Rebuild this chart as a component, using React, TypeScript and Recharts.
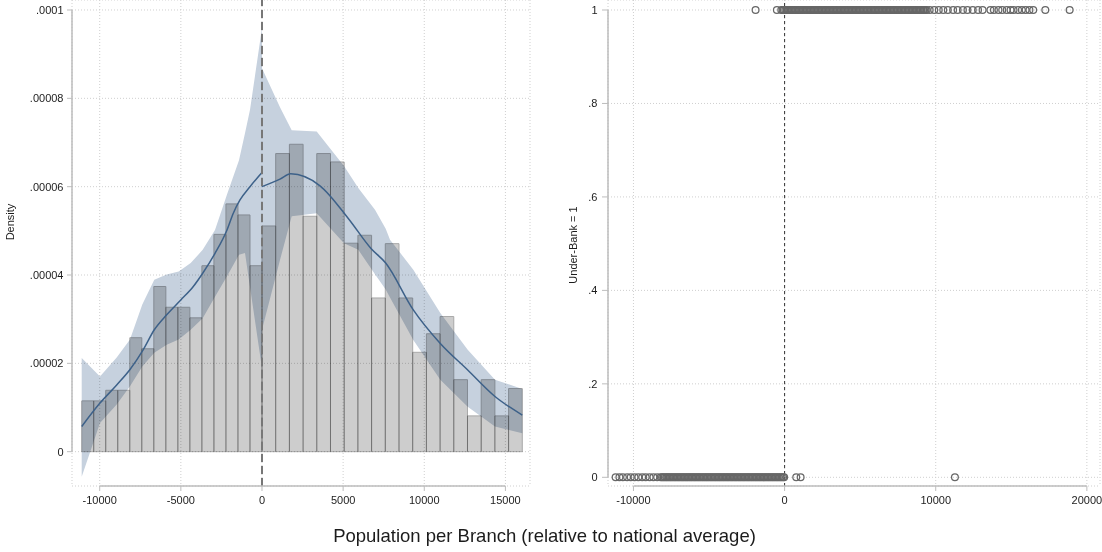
import React from "react";
import {
  ComposedChart,
  ScatterChart,
  Scatter,
  Area,
  Line,
  XAxis,
  YAxis,
  CartesianGrid,
  ReferenceArea,
  ReferenceLine,
} from "recharts";

const FONT = "'Liberation Sans', Arial, Helvetica, sans-serif";
const TEXT = "#1c1c1c";
const AXIS = "#bdbdbd";
const GRID = "#cfcfcf";
const E = 1e-5; // density values below are in units of 1e-5

// ---- left panel: histogram of population per branch ----
const leftBinStart = -11110;
const leftBinWidth = 740.7;
const leftBarHeights = [1.15, 1.15, 1.39, 1.39, 2.58, 2.33, 3.74, 3.27, 3.27, 3.03, 4.21, 4.92, 5.61, 5.36, 4.21];
const rightBinStart = 0;
const rightBinWidth = 844.2;
const rightBarHeights = [5.11, 6.75, 6.96, 5.33, 6.75, 6.56, 4.72, 4.9, 3.48, 4.71, 3.48, 2.25, 2.67, 3.06, 1.63, 0.81, 1.63, 0.81, 1.43];

// local fit, left of cutoff
const leftFitX = [-11110, -9983, -8954, -8134, -7315, -6637, -5873, -4991, -4233, -3654, -2896, -2157, -1769, -1356, -739, 0];
const leftFitY = [0.57, 1.1, 1.51, 1.86, 2.31, 2.76, 3.1, 3.44, 3.74, 4.04, 4.49, 5.02, 5.4, 5.7, 6.0, 6.32];
// confidence band, left of cutoff
const leftBandX = [-11110, -9983, -8954, -8134, -7376, -6637, -5873, -5134, -4394, -3654, -2896, -2157, -1417, -1048, -739, 0];
const leftBandLo = [-0.57, 0.65, 1.07, 1.48, 1.93, 2.24, 2.42, 2.54, 2.76, 3.02, 3.51, 3.97, 4.46, 4.5, 3.73, 1.89];
const leftBandHi = [2.12, 1.7, 2.13, 2.54, 3.33, 3.89, 4.01, 4.08, 4.27, 4.57, 5.02, 5.82, 6.6, 7.21, 7.74, 9.59];

// local fit, right of cutoff
const rightFitX = [0, 1109, 1769, 3574, 5318, 6717, 7623, 9323, 10987, 12676, 14358, 16040];
const rightFitY = [6.0, 6.17, 6.29, 6.02, 5.28, 4.6, 4.27, 3.21, 2.45, 1.85, 1.25, 0.83];
// confidence band, right of cutoff
const rightBandX = [0, 1109, 1830, 3371, 5053, 5934, 6963, 7623, 7888, 9323, 10987, 12676, 14358, 16040];
const rightBandLo = [2.76, 4.34, 5.33, 5.4, 4.72, 4.57, 4.02, 3.67, 3.49, 2.53, 1.63, 1.02, 0.57, 0.42];
const rightBandHi = [8.68, 7.8, 7.28, 7.25, 6.47, 5.97, 5.48, 5.05, 4.8, 4.12, 3.14, 2.31, 1.63, 1.42];

const densityTicks = [0, 2e-5, 4e-5, 6e-5, 8e-5, 1e-4];
const densityTickLabels = ["0", ".00002", ".00004", ".00006", ".00008", ".0001"];
const leftXTicks = [-10000, -5000, 0, 5000, 10000, 15000];

// ---- right panel: under-banked indicator ----
const underBankTicks = [0, 0.2, 0.4, 0.6, 0.8, 1];
const underBankTickLabels = ["0", ".2", ".4", ".6", ".8", "1"];
const rightXTicks = [-10000, 0, 10000, 20000];

const underBankedX = [
  -1920, -510,
  -220, -130, -40, 50, 140, 225, 320, 405, 500, 590, 675, 770, 860, 945, 1040, 1125, 1220, 1310, 1395, 1490,
  1580, 1665, 1760, 1850, 1935, 2030, 2115, 2210, 2300, 2385, 2480, 2570, 2655, 2750, 2840, 2925, 3020, 3105,
  3200, 3290, 3375, 3470, 3560, 3645, 3740, 3830, 3915, 4010, 4095, 4190, 4280, 4365, 4460, 4550, 4635, 4730,
  4820, 4905, 5000, 5085, 5180, 5270, 5355, 5450, 5540, 5625, 5720, 5810, 5895, 5990, 6075, 6170, 6260, 6345,
  6440, 6530, 6615, 6710, 6800, 6885, 6980, 7065, 7160, 7250, 7335, 7430, 7520, 7605, 7700, 7790, 7875, 7970,
  8055, 8150, 8240, 8325, 8420, 8510, 8595, 8690, 8780, 8865, 8960, 9045, 9140, 9230, 9315, 9400,
  9600, 9900, 10200, 10500, 10800, 11150, 11450, 11800, 12100, 12450, 12800, 13100, 13620, 13850, 14150,
  14400, 14700, 14950, 15150, 15450, 15700, 15950, 16200, 16450, 17250, 18860,
];
const notUnderBankedX = [
  -11180, -10930, -10700, -10420, -10180, -9930, -9680, -9420, -9190, -8930, -8680, -8430,
  -8200, -8110, -8025, -7930, -7840, -7755, -7660, -7570, -7485, -7390, -7300, -7215, -7120, -7030, -6945,
  -6850, -6760, -6675, -6580, -6490, -6405, -6310, -6220, -6135, -6040, -5950, -5865, -5770, -5680, -5595,
  -5500, -5410, -5325, -5230, -5140, -5055, -4960, -4870, -4785, -4690, -4600, -4515, -4420, -4330, -4245,
  -4150, -4060, -3975, -3880, -3790, -3705, -3610, -3520, -3435, -3340, -3250, -3165, -3070, -2980, -2895,
  -2800, -2710, -2625, -2530, -2440, -2355, -2260, -2170, -2085, -1990, -1900, -1815, -1720, -1630, -1545,
  -1450, -1360, -1275, -1180, -1090, -1005, -910, -820, -735, -640, -550, -465, -370, -280, -195, -100, -30,
  770, 1060, 11270,
];

const leftBins = [
  ...leftBarHeights.map((h, i) => ({ x1: leftBinStart + i * leftBinWidth, x2: leftBinStart + (i + 1) * leftBinWidth, h: h * E })),
  ...rightBarHeights.map((h, i) => ({ x1: rightBinStart + i * rightBinWidth, x2: rightBinStart + (i + 1) * rightBinWidth, h: h * E })),
];
const leftFit = leftFitX.map((x, i) => ({ x, fit: leftFitY[i] * E }));
const rightFit = rightFitX.map((x, i) => ({ x, fit: rightFitY[i] * E }));
const leftBand = leftBandX.map((x, i) => ({ x, band: [leftBandLo[i] * E, leftBandHi[i] * E] }));
const rightBand = rightBandX.map((x, i) => ({ x, band: [rightBandLo[i] * E, rightBandHi[i] * E] }));
const topRow = underBankedX.map((x) => ({ x, y: 1 }));
const bottomRow = notUnderBankedX.map((x) => ({ x, y: 0 }));

const LX: [number, number] = [-11708, 16515];
const LY: [number, number] = [-0.0777e-4, 1.02264e-4];
const RX: [number, number] = [-11685, 20869];
const RY: [number, number] = [-0.0186, 1.0214];

const tickStyle = { fontSize: 11, fill: TEXT, fontFamily: FONT };

const Ring = (props: any) => (
  <circle cx={props.cx} cy={props.cy} r={3.4} fill="none" stroke="#676767" strokeWidth={1.25} />
);

// band and bars are multiplied so the overlap darkens like the original
const blendCss = `
.lp .recharts-area, .lp .recharts-area g, .lp .recharts-area-area,
.lp .recharts-reference-area, .lp .recharts-reference-area-rect { mix-blend-mode: multiply; }
`;

export default function App() {
  return (
    <div style={{ position: "absolute", left: 0, top: 0, width: 1102, height: 552, background: "#fff", fontFamily: FONT }}>
      <style>{blendCss}</style>

      {/* Left: density */}
      <div className="lp" style={{ position: "absolute", left: 0, top: 0 }}>
        <ComposedChart width={540} height={552} margin={{ top: 0, right: 10, bottom: 0, left: 0 }}>
          <CartesianGrid stroke={GRID} strokeDasharray="1 2" />
          <XAxis
            type="number"
            dataKey="x"
            domain={LX}
            allowDataOverflow
            ticks={leftXTicks}
            height={66}
            axisLine={false}
            tickLine={{ stroke: AXIS }}
            tickSize={5}
            tickMargin={5}
            tick={tickStyle}
          />
          <YAxis
            type="number"
            domain={LY}
            allowDataOverflow
            ticks={densityTicks}
            tickFormatter={(v: number) => densityTickLabels[densityTicks.indexOf(v)] ?? ""}
            width={72}
            axisLine={false}
            tickLine={{ stroke: AXIS }}
            tickSize={5}
            tickMargin={3.5}
            tick={tickStyle}
          />
          {leftBins.map((b, i) => (
            <ReferenceArea
              key={i}
              x1={b.x1}
              x2={b.x2}
              y1={0}
              y2={b.h}
              fill="#cdcdcd"
              fillOpacity={1}
              stroke="#a9a9a9"
              strokeWidth={1}
              ifOverflow="visible"
            />
          ))}
          <Area data={leftBand} dataKey="band" type="linear" stroke="none" fill="#c6d1de" fillOpacity={1} isAnimationActive={false} />
          <Area data={rightBand} dataKey="band" type="linear" stroke="none" fill="#c6d1de" fillOpacity={1} isAnimationActive={false} />
          <Line data={leftFit} dataKey="fit" type="monotone" stroke="#3d6189" strokeWidth={1.5} dot={false} isAnimationActive={false} />
          <Line data={rightFit} dataKey="fit" type="monotone" stroke="#3d6189" strokeWidth={1.5} dot={false} isAnimationActive={false} />
          <ReferenceLine x={0} stroke="#777" strokeWidth={2} strokeDasharray="8 4" ifOverflow="visible" />
          <ReferenceLine segment={[{ x: -10000, y: LY[0] }, { x: 15000, y: LY[0] }]} stroke={AXIS} strokeWidth={1.5} ifOverflow="visible" />
          <ReferenceLine segment={[{ x: LX[0], y: 0 }, { x: LX[0], y: 1e-4 }]} stroke={AXIS} strokeWidth={1.5} ifOverflow="visible" />
        </ComposedChart>
      </div>

      {/* Right: under-banked indicator */}
      <div style={{ position: "absolute", left: 540, top: 0 }}>
        <ScatterChart width={562} height={552} margin={{ top: 0, right: 2, bottom: 0, left: 0 }}>
          <CartesianGrid stroke={GRID} strokeDasharray="1 2" />
          <XAxis
            type="number"
            dataKey="x"
            domain={RX}
            allowDataOverflow
            ticks={rightXTicks}
            height={66}
            axisLine={false}
            tickLine={{ stroke: AXIS }}
            tickSize={5}
            tickMargin={5}
            tick={tickStyle}
          />
          <YAxis
            type="number"
            dataKey="y"
            domain={RY}
            allowDataOverflow
            ticks={underBankTicks}
            tickFormatter={(v: number) => underBankTickLabels[underBankTicks.indexOf(v)] ?? ""}
            width={68}
            axisLine={false}
            tickLine={{ stroke: AXIS }}
            tickSize={6}
            tickMargin={4.5}
            tick={tickStyle}
          />
          <ReferenceLine x={0} stroke="#333" strokeWidth={1} strokeDasharray="3 3" ifOverflow="visible" />
          <Scatter data={topRow} shape={Ring} isAnimationActive={false} />
          <Scatter data={bottomRow} shape={Ring} isAnimationActive={false} />
          <ReferenceLine segment={[{ x: -10000, y: RY[0] }, { x: 20000, y: RY[0] }]} stroke={AXIS} strokeWidth={1.5} ifOverflow="visible" />
          <ReferenceLine segment={[{ x: RX[0], y: 0 }, { x: RX[0], y: 1 }]} stroke={AXIS} strokeWidth={1.5} ifOverflow="visible" />
        </ScatterChart>
      </div>

      {/* Axis titles */}
      <div
        style={{
          position: "absolute",
          left: 10,
          top: 222,
          transform: "translate(-50%, -50%) rotate(-90deg)",
          fontSize: 11,
          lineHeight: 1,
          color: TEXT,
          whiteSpace: "nowrap",
        }}
      >
        Density
      </div>
      <div
        style={{
          position: "absolute",
          left: 573,
          top: 245,
          transform: "translate(-50%, -50%) rotate(-90deg)",
          fontSize: 11,
          lineHeight: 1,
          color: TEXT,
          whiteSpace: "nowrap",
        }}
      >
        Under-Bank = 1
      </div>
      <div
        style={{
          position: "absolute",
          left: 0,
          top: 527,
          width: 1089,
          textAlign: "center",
          fontSize: 18.5,
          lineHeight: 1,
          color: TEXT,
          whiteSpace: "nowrap",
        }}
      >
        Population per Branch (relative to national average)
      </div>
    </div>
  );
}
